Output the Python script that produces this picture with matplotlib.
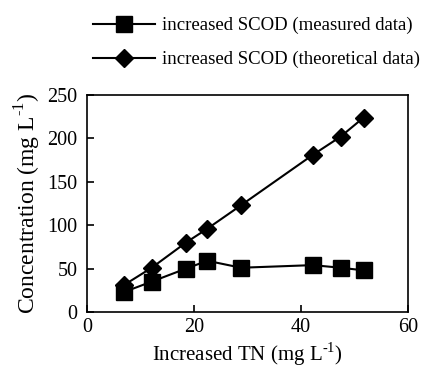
import matplotlib
matplotlib.use("Agg")
import matplotlib.pyplot as plt

# increased TN (mg/L) and increased SCOD (mg/L)
tn = [6.9, 12.1, 18.5, 22.5, 28.8, 42.2, 47.4, 51.7]
scod_measured = [23, 35, 50, 59, 51, 54, 51, 48]
scod_theoretical = [31, 51, 80, 96, 123, 181, 202, 224]

plt.rcParams['font.family'] = ['Liberation Serif', 'DejaVu Serif']
plt.rcParams['mathtext.fontset'] = 'custom'
plt.rcParams['mathtext.rm'] = 'Liberation Serif'

fig = plt.figure(figsize=(4.22, 3.69), dpi=100)
ax = fig.add_axes([87 / 422, 1 - 312 / 369, 321 / 422, 217 / 369])

l1, = ax.plot(tn, scod_measured, color='black', lw=1.5, marker='s', ms=11,
              label='increased SCOD (measured data)')
l2, = ax.plot(tn, scod_theoretical, color='black', lw=1.5, marker='D', ms=9,
              label='increased SCOD (theoretical data)')

ax.set_xlim(0, 60)
ax.set_ylim(0, 250)
ax.set_xticks([0, 20, 40, 60])
ax.set_yticks([0, 50, 100, 150, 200, 250])
ax.tick_params(direction='in', length=5, width=1.2, labelsize=14.5)
ax.tick_params(axis='y', pad=7)
ax.tick_params(axis='x', pad=4)
for s in ax.spines.values():
    s.set_linewidth(1.2)

ax.set_xlabel(r'Increased TN (mg L$^{\text{-1}}$)', fontsize=15, labelpad=3)
ax.set_ylabel(r'Concentration (mg L$^{\text{-1}}$)', fontsize=17, labelpad=3)

fig.legend(handles=[l1, l2], loc='upper left', bbox_to_anchor=(76 / 422, 1.0),
           frameon=False, fontsize=13.5, handlelength=3.3, handletextpad=0.4,
           labelspacing=0.9, borderaxespad=0.5)

fig.savefig('out.png', dpi=100)
